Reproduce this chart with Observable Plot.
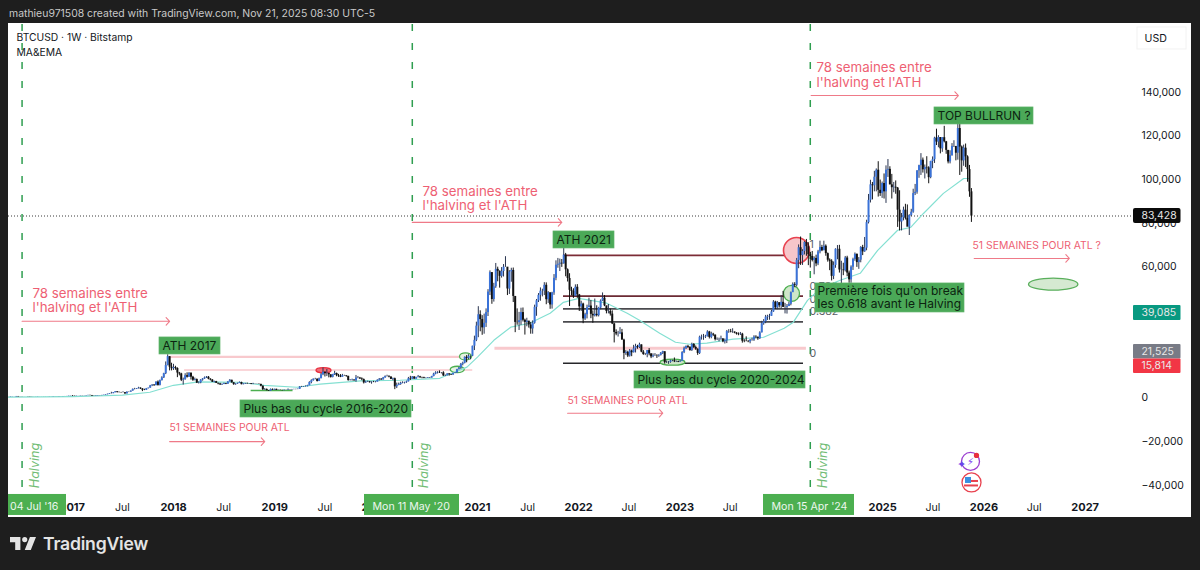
<!DOCTYPE html>
<html>
<head>
<meta charset="utf-8">
<script src="https://cdn.jsdelivr.net/npm/d3@7"></script>
<script src="https://cdn.jsdelivr.net/npm/@observablehq/plot@0.6"></script>
<style>
  html, body { margin: 0; padding: 0; background: #1e1e1e; width: 1200px; height: 570px; overflow: hidden; }
  body { font-family: Inter, "Noto Sans", sans-serif; }
  #head { height: 23px; line-height: 27px; padding-left: 9px; color: #c9c9c9; font-size: 10.45px; box-sizing: border-box; white-space: nowrap; }
  #chart { margin-left: 8px; width: 1183px; height: 494px; }
  #chart svg { display: block; }
  #foot { height: 53px; position: relative; }
  #foot svg { position: absolute; left: 10px; top: 20px; }
  #foot span { position: absolute; left: 43px; top: 16px; color: #e4e4e4; font-size: 17.6px; font-weight: 600; letter-spacing: -0.2px; }
</style>
</head>
<body>
<div id="head">mathieu971508 created with TradingView.com, Nov 21, 2025 08:30 UTC-5</div>
<div id="chart"></div>
<div id="foot">
  <svg width="26" height="13" viewBox="2 6 30 15"><path fill="#e4e4e4" d="M14 6H2v6h6v9h6V6Zm12 15h-7l6-15h7l-6 15Zm-7-9a3 3 0 1 0 0-6 3 3 0 0 0 0 6Z"/></svg>
  <span>TradingView</span>
</div>
<script>
// weekly closes / highs / lows in thousands of USD, one row per calendar year (first week 2016-05-16)
const closes = [
  .44,.53,.58,.59,.76,.66,.67,.65,.66,.66,.62,.59,.57,.58,.57,.61,.61,.61,.60,.61,.62,.64,.65,.70,.71,.70,.73,.73,.76,.77,.79,.89,.97,
  .90,.82,.92,.92,1.02,1.00,1.05,1.17,1.27,1.23,.97,.96,1.08,1.19,1.17,1.25,1.35,1.55,1.77,2.05,2.05,2.50,2.95,2.65,2.55,2.50,2.50,1.95,2.75,2.75,3.25,4.05,4.05,4.35,4.60,4.20,3.65,3.60,4.35,4.60,5.65,6.00,5.75,7.35,5.85,8.00,9.30,11.2,15.0,19.0,14.2,13.5,
  14.0,13.6,11.5,11.1,8.2,8.5,10.3,9.6,11.4,9.6,8.2,8.5,6.9,7.0,8.3,8.8,9.3,9.6,8.7,8.3,7.3,7.6,6.8,6.5,6.1,6.3,6.7,6.4,7.4,8.2,7.0,6.2,6.5,6.7,7.2,6.2,6.5,6.7,6.6,6.6,6.3,6.4,6.4,6.4,6.3,5.5,3.9,4.0,3.4,3.2,4.0,3.7,4.05,
  3.55,3.6,3.55,3.45,3.65,3.65,3.85,3.85,3.95,4.0,3.98,4.1,5.05,5.05,5.25,5.25,5.75,7.2,8.0,8.7,8.7,7.65,8.9,10.7,11.9,11.3,11.4,10.7,9.5,10.8,11.3,10.3,10.1,9.6,10.3,10.3,10.0,8.05,8.15,8.3,7.95,9.2,9.2,8.8,8.5,7.0,7.4,7.5,7.1,7.3,7.25,7.35,
  8.2,8.7,8.35,9.3,9.9,9.9,9.65,8.6,8.9,5.2,5.8,6.25,6.8,6.9,7.1,7.5,8.9,8.7,9.7,8.7,9.45,9.75,9.35,9.3,9.0,9.05,9.3,9.2,9.9,11.0,11.6,11.8,11.6,11.6,10.2,10.3,11.1,10.8,10.6,11.3,11.5,13.1,13.8,15.5,16.0,18.7,18.2,19.2,19.2,23.8,26.5,33.0,
  38.2,36.0,32.2,34.3,39.2,48.6,57.5,45.2,51.0,59.0,58.1,55.8,58.0,60.0,60.0,50.0,57.8,58.5,46.6,34.7,34.6,35.5,39.2,35.7,34.7,35.3,33.5,31.7,34.3,41.6,44.6,47.1,49.0,49.0,51.7,45.1,48.3,42.7,48.2,54.9,60.9,61.3,61.8,61.5,65.5,58.8,54.8,49.4,48.9,46.7,50.8,47.3,
  41.8,43.1,36.3,38.2,41.4,42.2,38.4,37.7,38.4,37.8,41.3,44.5,45.8,42.3,39.7,39.7,38.5,34.0,30.1,29.4,29.4,29.9,26.6,20.5,21.0,19.3,21.6,20.8,22.6,23.6,23.2,24.4,21.1,20.0,20.0,21.8,20.3,18.9,19.4,19.4,19.3,19.6,20.6,21.3,16.3,16.3,16.4,17.1,17.1,16.7,16.8,16.5,
  16.9,20.9,22.7,23.7,23.3,21.8,24.6,23.2,22.4,20.5,27.9,28.0,28.0,28.3,30.3,27.8,29.3,28.9,26.8,26.8,26.9,27.1,25.8,26.3,30.5,30.5,30.3,30.3,29.8,29.3,29.1,29.3,26.1,26.0,25.9,25.8,26.5,26.6,28.0,27.9,27.2,29.9,34.1,35.0,37.1,37.4,37.5,39.5,44.0,41.4,43.7,42.3,
  43.9,41.6,41.6,42.0,43.0,48.3,52.1,51.7,63.1,68.9,65.3,67.2,71.3,69.4,65.7,64.9,63.1,64.0,61.5,67.0,69.0,67.5,69.6,66.2,63.2,62.7,55.8,60.8,68.2,68.2,58.7,58.7,58.4,64.2,57.3,54.2,60.0,63.5,65.9,62.1,63.2,69.0,67.0,68.7,80.4,90.6,97.7,97.3,101.2,104.4,95.2,93.7,98.3,
  94.5,104.4,104.8,97.7,96.4,96.6,96.2,86.1,80.7,82.6,86.1,82.4,78.3,83.7,85.2,93.7,94.3,104.1,106.5,109.0,104.6,105.7,105.5,101.0,108.4,109.2,119.1,117.3,119.4,114.2,119.3,117.4,113.5,108.2,111.1,115.3,115.3,112.2,123.5,115.0,108.7,114.5,110.5,104.7,94.5,83.4
];
const highs = [
  .46,.55,.59,.60,.78,.78,.69,.68,.67,.67,.66,.62,.60,.59,.59,.62,.62,.62,.61,.62,.62,.65,.66,.72,.74,.72,.75,.74,.77,.78,.80,.90,1.0,
  1.15,.92,.93,.93,1.03,1.04,1.06,1.20,1.29,1.33,1.25,1.08,1.10,1.20,1.22,1.26,1.37,1.60,1.85,2.10,2.70,2.55,3.00,3.00,2.75,2.65,2.92,2.60,2.90,2.90,3.30,4.20,4.50,4.40,4.98,4.70,4.35,4.10,4.45,4.60,5.85,6.20,6.20,7.50,7.90,8.30,9.80,11.4,16.6,19.9,19.0,16.0,
  15.5,14.6,13.9,11.8,11.4,9.2,11.2,11.6,11.7,11.6,10.0,9.2,8.8,7.5,8.5,9.0,9.7,9.9,9.9,8.9,8.5,7.8,7.7,6.9,6.8,6.5,6.9,6.8,7.6,8.5,8.2,7.2,6.6,6.9,7.4,7.3,6.6,6.8,6.9,6.7,6.7,6.8,6.6,6.5,6.5,6.4,5.6,4.4,4.2,3.5,4.2,4.2,4.1,
  4.1,3.7,3.7,3.6,3.7,3.7,4.2,3.95,4.0,4.05,4.05,4.15,5.3,5.4,5.35,5.6,5.9,7.5,8.4,8.8,9.1,8.8,9.2,11.3,13.8,12.0,13.1,11.1,10.7,10.9,12.3,11.5,10.9,10.8,10.9,10.5,10.3,10.0,8.5,8.7,8.4,10.4,9.9,9.5,9.3,8.8,7.8,7.8,7.6,7.5,7.7,7.6,
  8.4,9.0,8.9,9.5,10.2,10.5,10.3,9.8,9.2,9.2,6.9,6.9,7.3,7.5,7.3,7.8,9.5,10.0,9.9,9.8,9.6,10.4,10.0,9.6,9.6,9.3,9.4,9.4,10.0,11.4,12.1,12.1,12.5,11.7,12.1,10.6,11.2,11.2,10.9,11.5,11.7,13.2,14.1,15.9,16.5,18.9,19.5,19.9,19.4,23.8,28.4,34.8,
  41.9,40.0,37.8,38.5,40.9,49.7,58.3,57.5,52.6,61.7,60.0,58.3,59.8,61.2,64.8,57.5,58.4,59.5,59.6,45.7,40.9,39.3,41.2,41.3,36.2,36.6,35.1,34.7,35.4,42.6,45.2,47.9,50.5,49.9,52.9,52.8,48.8,45.6,48.5,56.6,62.9,64.0,63.7,63.5,69.0,66.3,59.2,57.0,50.8,50.1,51.9,52.0,
  47.5,44.4,43.5,38.9,42.6,45.8,44.7,40.0,45.4,42.3,41.6,45.0,48.2,47.0,41.5,42.9,40.8,40.0,34.3,31.3,30.6,32.3,31.5,27.0,21.8,21.5,22.3,22.0,24.2,24.7,24.2,25.2,24.4,21.8,20.5,21.8,22.7,20.3,20.3,20.4,19.9,19.9,20.9,21.5,21.0,17.0,16.8,17.4,17.4,18.4,17.0,16.9,
  17.1,21.3,23.4,23.9,24.2,23.5,25.2,25.0,23.9,22.6,28.4,28.9,29.2,28.8,30.9,30.6,30.2,29.7,28.9,27.6,27.5,28.4,27.3,27.1,31.0,31.4,31.5,31.8,30.3,30.0,29.9,30.1,29.7,26.8,28.1,26.4,26.9,27.5,28.6,28.6,28.0,30.4,35.2,36.0,37.9,38.0,38.4,40.2,44.7,44.4,44.3,43.8,
  47.0,48.9,43.4,42.9,43.9,48.6,52.8,52.9,64.0,70.2,73.8,68.0,71.7,72.7,71.2,66.8,67.2,64.7,65.5,67.7,71.9,70.0,71.9,70.2,66.5,63.8,63.4,62.4,68.4,69.9,70.0,62.7,61.8,64.9,65.0,58.2,60.6,64.1,66.5,66.0,64.4,69.4,70.0,73.6,81.5,93.3,99.8,98.8,103.9,105.0,108.3,99.9,99.0,
  102.7,106.4,109.3,106.0,102.5,98.8,99.5,96.5,95.0,84.6,87.5,88.8,88.5,84.0,86.5,95.7,97.9,104.2,106.7,112.0,110.0,106.8,110.6,106.0,108.5,110.5,119.5,123.2,120.2,119.0,119.3,124.5,117.6,113.4,113.3,116.6,117.9,113.6,126.2,126.2,115.5,115.9,116.4,111.0,106.6,96.0
];
const lows = [
  .43,.44,.53,.57,.59,.55,.62,.63,.64,.65,.60,.50,.56,.56,.56,.57,.60,.60,.59,.59,.60,.61,.63,.65,.69,.68,.69,.72,.73,.75,.77,.78,.88,
  .75,.75,.82,.88,.91,.94,.98,1.05,1.15,1.08,.93,.90,.92,1.05,1.15,1.15,1.25,1.33,1.55,1.75,1.90,2.05,2.45,2.35,2.45,2.30,2.40,1.80,1.95,2.55,2.70,3.20,3.80,3.95,4.20,4.00,3.00,3.45,3.50,4.20,4.55,5.30,5.40,5.70,5.50,5.60,7.90,9.00,10.8,14.8,12.5,12.5,
  12.7,12.8,9.4,10.2,7.6,6.0,8.2,9.2,9.5,8.3,7.7,7.9,6.7,6.5,6.6,7.8,8.6,9.0,8.4,7.9,7.2,7.0,6.7,6.1,5.8,5.8,6.2,6.2,6.3,7.4,6.9,5.9,5.9,6.3,6.7,6.1,6.1,6.3,6.4,6.4,6.2,6.2,6.4,6.3,6.3,5.2,3.5,3.6,3.4,3.1,3.2,3.6,3.6,
  3.5,3.5,3.45,3.35,3.4,3.55,3.6,3.65,3.7,3.85,3.85,3.9,4.05,4.9,5.0,5.1,5.2,5.7,6.6,7.8,8.4,7.4,7.6,8.9,10.3,9.7,9.9,9.3,9.2,9.3,10.4,9.8,9.5,9.4,9.6,10.0,9.6,7.8,7.9,7.8,7.8,7.3,8.9,8.6,8.0,6.5,6.8,7.2,6.9,6.4,7.1,7.0,
  7.4,7.9,8.2,8.3,9.1,9.7,9.3,8.5,8.0,3.9,4.4,5.7,5.9,6.6,6.5,6.8,7.4,8.1,8.6,8.7,8.7,9.3,9.1,8.9,8.9,8.9,9.0,9.1,9.2,9.8,10.7,11.1,11.3,11.1,9.9,9.9,10.2,10.1,10.4,10.5,11.2,11.4,12.9,13.2,14.8,15.7,16.2,17.6,17.6,19.0,21.8,25.9,
  27.7,30.4,28.8,29.3,32.4,37.4,47.0,43.0,44.0,50.3,53.3,50.4,55.0,55.5,59.9,47.0,47.5,53.1,43.8,30.0,33.4,31.0,33.3,34.9,28.9,32.7,32.1,29.3,29.3,33.9,37.5,43.8,44.4,46.4,47.0,42.8,43.4,40.7,40.8,47.1,53.8,59.5,58.0,59.9,61.4,55.6,53.2,42.0,46.8,45.7,46.4,45.7,
  39.7,39.7,34.1,35.6,36.3,41.7,36.4,34.3,37.2,37.2,37.2,40.5,44.3,41.9,38.6,38.6,37.6,33.7,25.3,28.6,28.0,29.3,26.6,17.6,19.6,18.6,18.8,19.0,20.7,20.7,22.4,22.7,20.8,19.6,19.5,18.5,19.4,18.1,18.5,19.1,18.2,18.7,19.3,20.0,15.6,15.9,15.5,16.0,16.7,16.3,16.4,16.3,
  16.5,17.1,20.4,22.3,22.8,21.5,21.4,22.7,21.9,19.6,20.0,26.6,26.5,27.3,28.0,27.1,27.2,28.2,26.2,26.4,25.8,26.5,25.4,24.8,25.0,29.7,29.9,29.7,29.5,28.9,28.6,28.7,25.2,25.4,25.9,25.4,24.9,26.1,26.0,27.2,26.5,26.9,29.9,33.4,34.1,35.6,35.7,37.5,39.3,40.6,40.5,41.3,
  40.8,41.5,38.6,38.5,41.9,42.3,50.5,50.6,50.9,59.3,60.8,60.8,65.6,65.0,60.7,59.6,62.4,56.5,60.2,60.7,66.1,67.1,67.6,65.0,62.3,58.4,53.7,54.3,59.5,63.4,57.3,49.0,56.1,57.8,55.6,52.6,52.6,58.5,62.7,59.9,59.0,62.0,65.3,66.8,67.5,79.8,89.4,90.8,94.5,94.5,92.1,92.4,91.5,
  91.2,89.2,101.1,97.7,91.2,94.1,93.4,78.2,76.6,76.6,81.2,81.6,81.3,74.5,83.2,84.7,92.8,93.4,100.7,102.0,103.1,100.4,102.7,98.2,100.5,105.1,107.5,115.7,114.7,111.9,112.6,116.9,111.7,107.3,107.3,110.8,114.8,108.7,109.0,102.0,103.5,106.2,105.6,98.9,92.0,80.5
];

// moving average (thousands of USD)
const maDates = ["2016-05-16","2017-01-01","2017-07-01","2017-10-08","2018-01-01","2018-04-01","2018-08-28","2018-11-24","2019-03-22","2019-06-14","2019-11-07","2020-03-28","2020-08-18","2020-11-24","2021-01-01","2021-03-01","2021-05-01","2021-07-08","2021-09-20","2021-11-07","2022-01-01","2022-02-14","2022-04-12","2022-06-25","2022-08-08","2022-10-20","2022-12-16","2023-02-06","2023-04-08","2023-07-12","2023-10-30","2024-01-12","2024-02-14","2024-04-05","2024-05-22","2024-08-01","2024-10-12","2024-12-14","2025-02-24","2025-04-12","2025-05-28","2025-08-08","2025-10-20","2025-11-08"];
const maValues = [.45,.7,1.4,2.7,5.9,7.5,7.3,5.9,5.0,6.4,7.9,8.2,9.1,14.2,18.8,26.5,32.5,34.3,38.9,43.9,45.7,44.8,43.5,38.9,35.7,29.7,25.6,24.7,25.2,27,27.9,32,34.8,44.8,50.3,54,57.2,67.7,76.9,78.2,84.6,93.8,100.6,100.6];

const yTicks = [140000, 120000, 100000, 80000, 60000, 0, -20000, -40000];
const yearTicks = ["2017","2018","2019","2020","2021","2022","2023","2025","2026","2027"];
const julTicks = ["2017","2018","2019","2021","2022","2023","2025","2026"];

const halvingDates = ["2016-07-04","2020-05-11","2024-04-15"];
const halvingLabels = ["04 Jul '16","Mon 11 May '20","Mon 15 Apr '24"];

const lastPrice = 83428;
const sideTagValues = [39085, 21525, 15814];

// fib retracement drawing, pink support levels, both in USD
const fibLevels = [65400, 46700, 40900, 34900, 16000];
const fibLabels = ["1", "0.786", "0.618", "0.382", "0"];
const pinkLevels = [18900, 12900, 22900];
const pinkStarts = ["2017-12-20","2018-02-10","2021-03-05"];
const pinkEnds = ["2020-12-05","2020-12-15","2024-04-01"];

// week arrows: start, end, price level
const arrowStarts = ["2016-07-04","2017-12-18","2020-05-11","2021-11-22","2024-04-18","2025-11-27"];
const arrowEnds = ["2017-12-18","2018-11-26","2021-11-01","2022-10-31","2025-10-01","2026-11-05"];
const arrowLevels = [35200, -19900, 80500, -6900, 138600, 64000];

const cycleLowDates = ["2018-10-08","2019-03-08"];
const cycleLowPrice = 3500;

const upColor = "#3a72d8", downColor = "#111111", maColor = "#84e0d2";
const red = "#ee5f73", green = "#4caf50", labelGreen = "#4ba958";
const ink = "#131722";

// page pixel <-> data, for placing drawings and labels
const pxPerYear = 101.3, anchor2018 = Date.UTC(2018, 0, 1), msPerYear = 365.25 * 864e5;
const xAt = px => new Date(anchor2018 + (px - 173) / pxPerYear * msPerYear);
const yAt = py => (397.7 - py) / 2.1833 * 1000;
const day = s => new Date(s + "T00:00:00Z");

const weeks = d3.utcMonday.range(day("2016-05-16"), day("2025-11-18"));
if (new Set([weeks.length, closes.length, highs.length, lows.length]).size !== 1)
  throw new Error(`lengths ${weeks.length} ${closes.length} ${highs.length} ${lows.length}`);

const candles = weeks.map((date, i) => ({
  date,
  open: (i ? closes[i - 1] : closes[0]) * 1000,
  close: closes[i] * 1000,
  high: highs[i] * 1000,
  low: lows[i] * 1000
}));
const maLine = maDates.map((d, i) => ({date: day(d), value: maValues[i] * 1000}));

const fmtPrice = d => d3.format(",")(d).replace("-", "\u2212");

// left aligned text at page pixels
const pageText = (rows, opts) => Plot.text(rows, {
  x: d => xAt(d.px), y: d => yAt(d.py), text: "text",
  textAnchor: "start", lineAnchor: "middle", ...opts
});
const pageBox = (rows, opts) => Plot.rect(rows, {
  x1: d => xAt(d.x1), x2: d => xAt(d.x2), y1: d => yAt(d.y1), y2: d => yAt(d.y2), ...opts
});
const ellipse = aspect => ({
  draw(ctx, size) {
    const rx = Math.sqrt(size / Math.PI), ry = rx * aspect, k = 0.5523;
    ctx.moveTo(rx, 0);
    ctx.bezierCurveTo(rx, k * ry, k * rx, ry, 0, ry);
    ctx.bezierCurveTo(-k * rx, ry, -rx, k * ry, -rx, 0);
    ctx.bezierCurveTo(-rx, -k * ry, -k * rx, -ry, 0, -ry);
    ctx.bezierCurveTo(k * rx, -ry, rx, -k * ry, rx, 0);
    ctx.closePath();
  }
});
const oval = (px, py, rx, ry, fill, stroke, strokeWidth = 1.3) => Plot.dot([0], {
  x: () => xAt(px), y: () => yAt(py), r: rx, symbol: ellipse(ry / rx),
  fill, stroke, strokeWidth
});

const chart = Plot.plot({
  width: 1183,
  height: 494,
  margin: 0,
  style: {background: "#ffffff", fontFamily: "Inter, 'Noto Sans', sans-serif"},
  x: {type: "utc", domain: [xAt(8), xAt(1191)], range: [0, 1183], axis: null},
  y: {domain: [-40000, 140000], range: [462, 69], axis: null},
  marks: [
    // halving lines
    Plot.ruleX(halvingDates.map(day), {y1: () => yAt(24), y2: () => yAt(490), stroke: "#2f9e50", strokeWidth: 1.5, strokeDasharray: "7 12"}),
    pageText([{text: "Halving", px: 34, py: 465}, {text: "Halving", px: 423, py: 465}, {text: "Halving", px: 822, py: 465}],
      {textAnchor: "middle", rotate: -90, fontSize: 12.6, fontStyle: "italic", fill: "#72bd76"}),

    // fib and pink levels
    Plot.ruleY(pinkLevels, {x1: (d, i) => day(pinkStarts[i]), x2: (d, i) => day(pinkEnds[i]), stroke: "#f8c9cd", strokeWidth: (d, i) => [2.4, 1.6, 3][i]}),
    Plot.ruleY(fibLevels, {x1: () => xAt(563), x2: () => xAt(803), stroke: (d, i) => ["#7c2c36","#6b2a33","#4a4a4e","#4a4a4e","#26262a"][i], strokeWidth: 1.7}),
    pageText(fibLabels.map((text, i) => ({text, px: 809, py: [244, 286, 299, 311, 353][i]})), {fontSize: 10.6, fill: "#5a5d66"}),

    // circles and ovals under the candles
    oval(796, 250, 13, 13, "#f6c6ca", "#e8424f", 1.6),
    oval(791, 293, 8, 8, "#cfe6c9", green),
    oval(1052.7, 283.7, 24.7, 6, "#d5e9d1", "#5aaf5c"),
    oval(672, 361.7, 12.5, 3, "#cfe6c9", green),
    oval(323, 369.7, 7.5, 2.6, "#f26d78", "#e8303f"),
    oval(456.7, 369, 7, 3.2, "#e5f2e2", green),
    oval(465, 356, 6, 3.6, "#e5f2e2", green),
    Plot.ruleY([cycleLowPrice], {x1: () => day(cycleLowDates[0]), x2: () => day(cycleLowDates[1]), stroke: green, strokeWidth: 1.5}),

    // price line
    Plot.ruleY([lastPrice], {x1: () => xAt(8), x2: () => xAt(1133), stroke: "#3a3a3a", strokeWidth: 1, strokeDasharray: "1 2"}),

    // candles and average
    Plot.line(maLine, {x: "date", y: "value", stroke: maColor, strokeWidth: 1.2}),
    Plot.ruleX(candles, {x: "date", y1: "low", y2: "high", stroke: d => d.close >= d.open ? "#2a3550" : downColor, strokeWidth: 1}),
    Plot.ruleX(candles, {x: "date", y1: "open", y2: "close", stroke: d => d.close >= d.open ? upColor : downColor, strokeWidth: 2}),

    // arrows
    Plot.arrow(arrowLevels, {
      x1: (d, i) => day(arrowStarts[i]), x2: (d, i) => day(arrowEnds[i]), y1: d => d, y2: d => d,
      stroke: "#ef7a88", strokeWidth: 1.1, headAngle: 95, headLength: 7
    }),
    pageText([
      {text: "78 semaines entre", px: 32, py: 293.5}, {text: "l'halving et l'ATH", px: 32, py: 307.5},
      {text: "78 semaines entre", px: 422, py: 191}, {text: "l'halving et l'ATH", px: 422, py: 205},
      {text: "78 semaines entre", px: 816, py: 67.5}, {text: "l'halving et l'ATH", px: 816, py: 82}
    ], {fontSize: 13.3, fill: red}),
    pageText([
      {text: "51 SEMAINES POUR ATL", px: 169, py: 427},
      {text: "51 SEMAINES POUR ATL", px: 567, py: 400},
      {text: "51 SEMAINES POUR ATL ?", px: 972, py: 245}
    ], {fontSize: 10.4, fill: red}),

    // green label boxes
    pageBox([
      {x1: 159, x2: 220, y1: 337, y2: 354},
      {x1: 240, x2: 411, y1: 400, y2: 417},
      {x1: 553, x2: 614, y1: 231, y2: 248},
      {x1: 634, x2: 805, y1: 371, y2: 388},
      {x1: 934, x2: 1033, y1: 107, y2: 124},
      {x1: 815, x2: 964, y1: 283, y2: 312}
    ], {fill: labelGreen, stroke: "#5fb46a", strokeWidth: 0.7}),
    pageText([
      {text: "ATH 2017", px: 162, py: 345.5},
      {text: "Plus bas du cycle 2016-2020", px: 243, py: 408.5},
      {text: "ATH 2021", px: 556, py: 239.5},
      {text: "Plus bas du cycle 2020-2024", px: 637, py: 379.5},
      {text: "TOP BULLRUN ?", px: 937, py: 115.5},
      {text: "Première fois qu'on break", px: 817, py: 291},
      {text: "les 0.618 avant le Halving", px: 817, py: 304}
    ], {fontSize: 12, fill: "#0c2410"}),

    // event icons
    oval(970, 461, 9, 9, "#ffffff", "#9b3fd0"),
    pageText([{text: "\u26A1", px: 970, py: 461}], {textAnchor: "middle", fontSize: 10, fill: "#7b3ff0", fontFamily: "DejaVu Sans"}),
    pageText([{text: "\u2726", px: 961, py: 464}], {textAnchor: "middle", fontSize: 11, fill: "#6a45ea", fontFamily: "DejaVu Sans"}),
    oval(976, 455, 2, 2, "#e8303f", "#e8303f"),
    oval(971, 482, 9.5, 9.5, "#ffffff", "#e8424f"),
    pageBox([{x1: 964, x2: 978, y1: 484.5, y2: 486.5}], {fill: "#e8424f"}),
    pageBox([{x1: 965, x2: 971, y1: 477, y2: 483}], {fill: "#3a8fe0"}),
    pageBox([{x1: 971, x2: 978, y1: 480, y2: 482}], {fill: "#e8424f"}),

    // USD box
    pageBox([{x1: 1137, x2: 1186, y1: 27, y2: 49}], {fill: "#ffffff", stroke: "#f2f2f2"}),
    pageText([{text: "USD", px: 1144, py: 38}], {fontSize: 10.6, fill: ink}),

    // legend
    pageText([{text: "BTCUSD \u00B7 1W \u00B7 Bitstamp", px: 16, py: 37}, {text: "MA&EMA", px: 16, py: 52}], {fontSize: 10.3, fill: ink}),

    // price axis
    pageText(yTicks.map(d => ({text: fmtPrice(d), px: 1141, py: 397.7 - d / 1000 * 2.1833})), {fontSize: 10.4, fill: ink}),
    pageBox([{x1: 1133, x2: 1180.5, y1: 208, y2: 223}], {fill: "#0b0b0b", rx: 2}),
    pageText([{text: fmtPrice(lastPrice), px: 1141, py: 215.5}], {fontSize: 10.4, fill: "#e6e6e6"}),
    pageBox([{x1: 1133, x2: 1180.5, y1: 305, y2: 320}], {fill: "#089981", rx: 1}),
    pageBox([{x1: 1133, x2: 1180.5, y1: 344, y2: 358.5}], {fill: "#787b86", rx: 1}),
    pageBox([{x1: 1133, x2: 1180.5, y1: 358.5, y2: 373}], {fill: "#f23645", rx: 1}),
    pageText(sideTagValues.map((d, i) => ({text: fmtPrice(d), px: 1141, py: [312.5, 351, 365.5][i]})), {fontSize: 10.4, fill: "#e8e8e8"}),

    // time axis
    Plot.text(julTicks, {x: d => day(d + "-07-01"), y: () => yAt(507), text: () => "Jul", fontSize: 10.6, fill: ink}),
    Plot.text(yearTicks, {x: d => day(d + "-01-01"), y: () => yAt(507), text: d => d, fontSize: 11, fontWeight: 700, fill: ink}),
    pageBox([{x1: 8, x2: 66, y1: 494, y2: 515}, {x1: 364, x2: 459, y1: 494, y2: 515}, {x1: 763, x2: 854, y1: 494, y2: 515}], {fill: green}),
    pageText(halvingLabels.map((text, i) => ({text, px: [9.5, 372, 771][i], py: 506.5})), {fontSize: 10.6, fill: "#eef7ef"})
  ]
});
document.getElementById("chart").appendChild(chart);
</script>
</body>
</html>
